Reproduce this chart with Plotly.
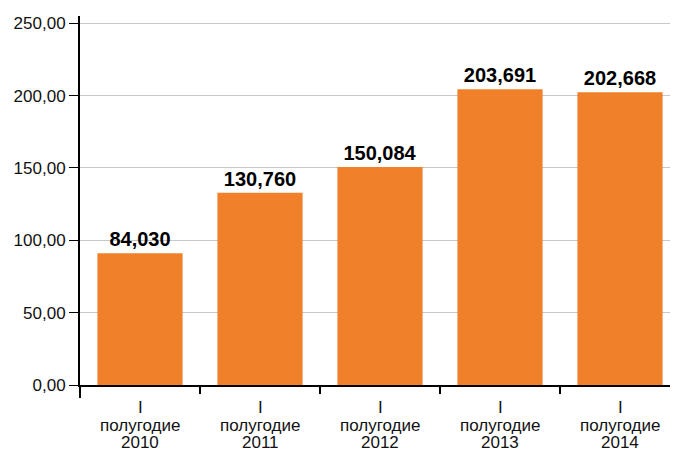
import plotly.graph_objects as go

half_labels = ["I", "I", "I", "I", "I"]
period_words = ["полугодие", "полугодие", "полугодие", "полугодие", "полугодие"]
years = ["2010", "2011", "2012", "2013", "2014"]
categories = [f"{h} {p} {y}" for h, p, y in zip(half_labels, period_words, years)]
bar_values = [91.0, 132.8, 150.6, 204.4, 202.3]
label_texts = ["84,030", "130,760", "150,084", "203,691", "202,668"]
y_ticks = [0, 50, 100, 150, 200, 250]

FONT = "Liberation Sans, Arial, sans-serif"

fig = go.Figure()
fig.add_trace(go.Bar(
    x=categories,
    y=bar_values,
    text=label_texts,
    textposition="outside",
    cliponaxis=False,
    textfont=dict(family=FONT, size=20, color="#000000", weight="bold"),
    marker=dict(color="#F0802A", line=dict(width=0)),
    hoverinfo="skip",
))

# page is offset by the browser's default 8px body margin; compensate in margins
fig.update_layout(
    width=678, height=450,
    margin=dict(l=72, r=6, t=8, b=73),
    paper_bgcolor="white", plot_bgcolor="white",
    showlegend=False,
    bargap=0.29,
    separators=", ",
    font=dict(family=FONT, size=16, color="#111111"),
    xaxis=dict(
        type="category",
        range=[-0.5, 4.5],
        automargin=False,
        showline=True, linecolor="#000000", linewidth=2,
        ticks="outside", tickson="boundaries", ticklen=7, tickwidth=1.5, tickcolor="#000000",
        showgrid=False,
        showticklabels=False,
    ),
    yaxis=dict(
        range=[0, 255],
        automargin=False,
        tickvals=y_ticks,
        tickformat=".2f",
        showline=True, linecolor="#000000", linewidth=2,
        ticks="outside", ticklen=9, tickwidth=1, tickcolor="#000000",
        showgrid=True, gridcolor="#C8C8C8", gridwidth=1,
        zeroline=False,
        tickfont=dict(family=FONT, size=17, color="#111111"),
    ),
)

# category labels, one line per annotation for tight line spacing
rows = [(half_labels, -22), (period_words, -40), (years, -57)]
for texts, shift in rows:
    for cat, t in zip(categories, texts):
        fig.add_annotation(x=cat, xref="x", y=0, yref="paper",
                           text=t, showarrow=False, yanchor="middle", yshift=shift,
                           font=dict(family=FONT, size=17, color="#111111"))

# y-axis line extends slightly below the x-axis
fig.add_shape(type="line", xref="paper", yref="paper",
              x0=0, x1=0, y0=0, y1=-0.035,
              line=dict(color="#000000", width=2))

fig.write_html("out.html")
